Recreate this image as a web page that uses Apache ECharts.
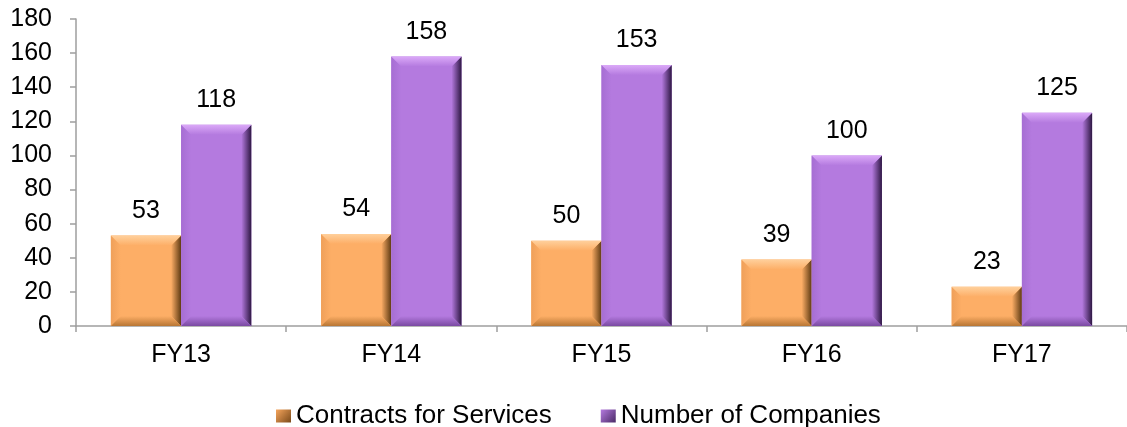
<!DOCTYPE html>
<html><head><meta charset="utf-8">
<script src="https://cdn.jsdelivr.net/npm/echarts@6/dist/echarts.min.js"></script>
<style>html,body{margin:0;padding:0;background:#fff}#c{width:1127px;height:427px}</style>
</head><body><div id="c"></div>
<script>
const categories = ['FY13', 'FY14', 'FY15', 'FY16', 'FY17'];
const contracts = [53, 54, 50, 39, 23];
const companies = [118, 158, 153, 100, 125];
const yTicks = [0, 20, 40, 60, 80, 100, 120, 140, 160, 180];

const palettes = [
  {main: '#FDAE66', light: '#FFD09C', mid: '#EFA05A', dark: '#5E3A12', bottom: '#B87634'},
  {main: '#B47ADF', light: '#DBA9F8', mid: '#A66ED3', dark: '#2E1743', bottom: '#7A4AA2'}
];
const FONT = '"Liberation Sans", Arial, sans-serif';

function makeRender(si) {
  const p = palettes[si];
  return function (params, api) {
    const cat = api.value(0), v = api.value(1);
    const base = api.coord([cat, 0]);
    const top = api.coord([cat, v]);
    const band = api.size([1, 0])[0];
    const bw = band * 0.334;
    const x0 = si === 0 ? base[0] - bw : base[0];
    const x1 = x0 + bw;
    const y0 = top[1], y1 = base[1];
    const h = y1 - y0;
    const b = Math.min(10, h / 2);
    const lg = (x, y, x2, y2, c1, c2) => ({type: 'linear', x: x, y: y, x2: x2, y2: y2, colorStops: [{offset: 0, color: c1}, {offset: 1, color: c2}]});
    return {
      type: 'group',
      children: [
        {type: 'rect', shape: {x: x0, y: y0, width: bw, height: h}, style: {fill: p.main}},
        {type: 'polygon', shape: {points: [[x0, y0], [x0 + b, y0 + b], [x0 + b, y1 - b], [x0, y1]]}, style: {fill: lg(0, 0, 1, 0, p.mid, p.main)}},
        {type: 'polygon', shape: {points: [[x1, y0], [x1 - b, y0 + b], [x1 - b, y1 - b], [x1, y1]]}, style: {fill: lg(0, 0, 1, 0, p.main, p.dark)}},
        {type: 'polygon', shape: {points: [[x0, y0], [x1, y0], [x1 - b, y0 + b], [x0 + b, y0 + b]]}, style: {fill: lg(0, 0, 0, 1, p.light, p.main)}},
        {type: 'polygon', shape: {points: [[x0, y1], [x1, y1], [x1 - b, y1 - b], [x0 + b, y1 - b]]}, style: {fill: lg(0, 0, 0, 1, p.main, p.bottom)}},
        {type: 'text', x: (x0 + x1) / 2, y: y0 - 12, style: {text: String(v), fill: '#000', font: '25px ' + FONT, textAlign: 'center', textVerticalAlign: 'bottom'}}
      ]
    };
  };
}

const legendGrad = (c1, c2) => ({type: 'linear', x: 0, y: 0, x2: 1, y2: 1, colorStops: [{offset: 0, color: c1}, {offset: 1, color: c2}]});

const chart = echarts.init(document.getElementById('c'), null, {renderer: 'canvas'});
chart.setOption({
  animation: false,
  backgroundColor: '#fff',
  grid: {left: 76, right: -6, top: 19, bottom: 101, containLabel: false},
  legend: {
    data: ['Contracts for Services', 'Number of Companies'],
    left: 271, top: 398,
    icon: 'rect', itemWidth: 15, itemHeight: 13, itemGap: 49,
    textStyle: {fontFamily: FONT, fontSize: 26, color: '#000'}
  },
  xAxis: {
    type: 'category', data: categories,
    axisLine: {show: true, lineStyle: {color: '#9E9E9E', width: 1.5}},
    axisTick: {show: true, length: 6, lineStyle: {color: '#9E9E9E', width: 1.5}},
    axisLabel: {fontFamily: FONT, fontSize: 25, color: '#000', margin: 17},
    splitLine: {show: false}
  },
  yAxis: {
    type: 'value', min: yTicks[0], max: yTicks[yTicks.length - 1], interval: 20,
    axisLine: {show: true, lineStyle: {color: '#9E9E9E', width: 1.5}},
    axisTick: {show: true, length: 6, lineStyle: {color: '#9E9E9E', width: 1.5}},
    axisLabel: {fontFamily: FONT, fontSize: 25, color: '#000', margin: 24},
    splitLine: {show: false}
  },
  series: [
    {name: 'Contracts for Services', type: 'custom', renderItem: makeRender(0), itemStyle: {color: legendGrad('#F6A55C', '#7A4A1A')},
     encode: {x: 0, y: 1}, data: contracts.map((v, i) => [i, v]), z: 2},
    {name: 'Number of Companies', type: 'custom', renderItem: makeRender(1), itemStyle: {color: legendGrad('#B47ADF', '#4A2A66')},
     encode: {x: 0, y: 1}, data: companies.map((v, i) => [i, v]), z: 2}
  ]
});
</script></body></html>
